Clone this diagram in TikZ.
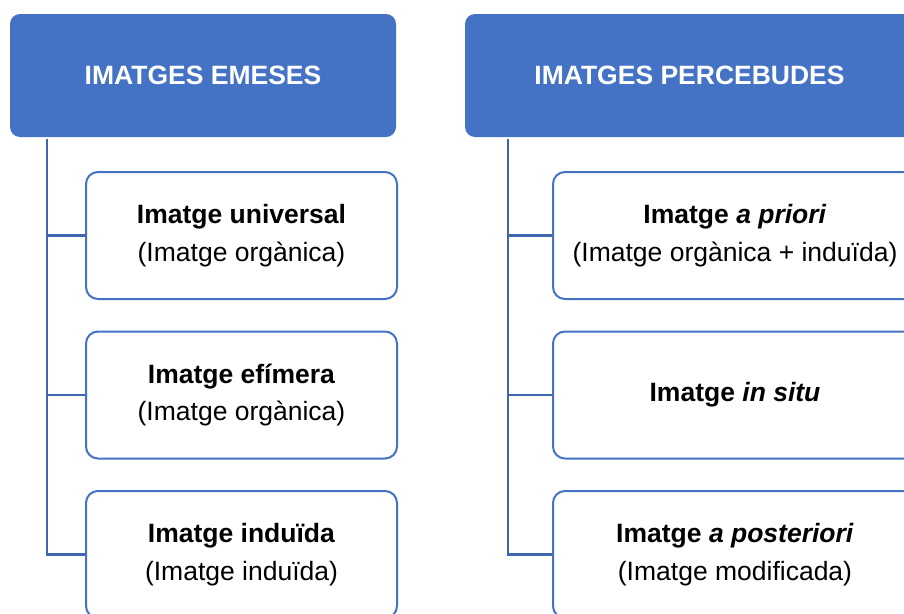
\documentclass[tikz,border=0pt]{standalone}
\usepackage{fontspec}
\setmainfont{Liberation Sans}
\definecolor{accent}{HTML}{4472C4}
\definecolor{trunk}{HTML}{3F67B0}
\begin{document}
\begin{tikzpicture}[x=1pt,y=-1pt,
  txt/.style={font=\fontsize{26.5}{37.7}\selectfont, align=center, inner sep=0pt},
  headbox/.style={txt, rectangle, rounded corners=10pt, fill=accent, text=white,
    font=\fontsize{26.5}{37.7}\selectfont\bfseries, minimum height=123pt},
  itembox/.style={txt, rectangle, rounded corners=12pt, draw=accent, line width=2pt,
    fill=white, minimum height=127pt},
  leftitem/.style={itembox, minimum width=311pt},
  rightitem/.style={itembox, minimum width=364pt},
  conn/.style={draw=trunk, line width=2.2pt}]
\useasboundingbox (0,0) rectangle (904,613);
\clip (0,0) rectangle (904,613);
\fill[white] (0,0) rectangle (904,613);

% left column
\node[headbox, minimum width=386pt] (lh) at (203,75.5) {IMATGES EMESES};
\node[leftitem] (l1) at (241.5,235.5) {\textbf{Imatge universal}\\(Imatge orgànica)};
\node[leftitem] (l2) at (241.5,395) {\textbf{Imatge efímera}\\(Imatge orgànica)};
\node[leftitem] (l3) at (241.5,554.5) {\textbf{Imatge induïda}\\(Imatge induïda)};

% right column
\node[headbox, minimum width=449pt] (rh) at (689.5,75.5) {IMATGES PERCEBUDES};
\node[rightitem] (r1) at (735,235.5) {\textbf{Imatge \textit{a priori}}\\(Imatge orgànica + induïda)};
\node[rightitem] (r2) at (735,395) {\textbf{Imatge \textit{in situ}}};
\node[rightitem] (r3) at (735,554.5) {\textbf{Imatge \textit{a posteriori}}\\(Imatge modificada)};

% trunk lines
\coordinate (lt) at (47,139);
\coordinate (rt) at (508,139);
\draw[conn] (lt) |- (l3.west);
\draw[conn] (lt) |- (l1.west);
\draw[conn] (lt) |- (l2.west);
\draw[conn] (rt) |- (r3.west);
\draw[conn] (rt) |- (r1.west);
\draw[conn] (rt) |- (r2.west);
\end{tikzpicture}
\end{document}
